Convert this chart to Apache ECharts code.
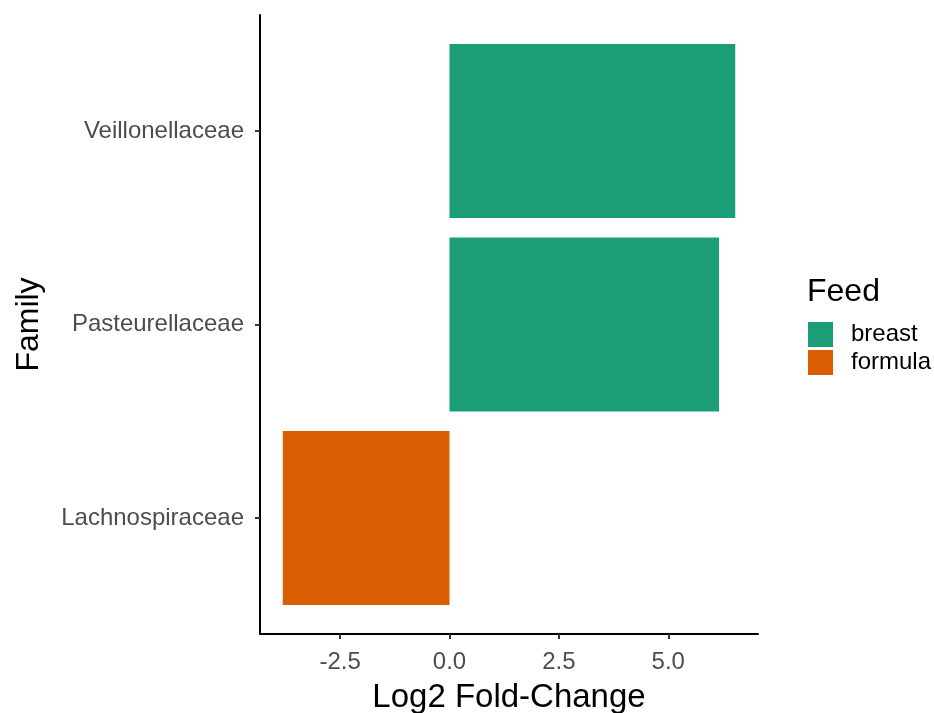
<!DOCTYPE html>
<html>
<head>
<meta charset="utf-8">
<script src="https://cdn.jsdelivr.net/npm/echarts@6/dist/echarts.min.js"></script>
<style>html,body{margin:0;padding:0;background:#fff}#c{width:934px;height:713px}</style>
</head>
<body>
<div id="c"></div>
<script>
var families = ['Lachnospiraceae', 'Pasteurellaceae', 'Veillonellaceae'];
var breastValues = [null, 6.16, 6.53];
var formulaValues = [-3.81, null, null];
var xTicks = [-2.5, 0, 2.5, 5.0];
var xMin = -4.33, xMax = 7.05;

var FONT = 'Liberation Sans, Arial, sans-serif';
var chart = echarts.init(document.getElementById('c'));
var gl = 260, gw = 498, fullTop = 15, fullH = 619;
var band = fullH / 3.2;
chart.setOption({
  animation: false,
  title: {
    text: 'Feed', left: 807, top: 276, padding: 0,
    textStyle: {fontFamily: FONT, fontSize: 32, fontWeight: 'normal', color: '#000'}
  },
  legend: {
    orient: 'vertical', left: 808, top: 322, padding: 0, itemWidth: 25, itemHeight: 25, itemGap: 3,
    icon: 'rect', data: ['breast', 'formula'],
    textStyle: {fontFamily: FONT, fontSize: 24, color: '#000', padding: [0, 0, 0, 13]}
  },
  grid: [
    {left: gl, width: gw, top: fullTop + 0.1 * band, height: 3 * band, containLabel: false, outerBoundsMode: 'none'},
    {left: gl, width: gw, top: fullTop, height: fullH, containLabel: false, outerBoundsMode: 'none'}
  ],
  xAxis: [
    {gridIndex: 0, type: 'value', min: xMin, max: xMax, show: false},
    {gridIndex: 1, type: 'value', min: xMin, max: xMax,
     name: 'Log2 Fold-Change', nameLocation: 'middle', nameGap: 47,
     nameTextStyle: {fontFamily: FONT, fontSize: 33, color: '#000'},
     axisLine: {show: true, onZero: false, lineStyle: {color: '#000', width: 2}},
     axisTick: {show: true, length: 5, customValues: xTicks, lineStyle: {color: '#333', width: 2}},
     axisLabel: {customValues: xTicks, margin: 16, fontFamily: FONT, fontSize: 24, color: '#4D4D4D',
       formatter: function (v) { return v.toFixed(1); }},
     splitLine: {show: false}}
  ],
  yAxis: [
    {gridIndex: 0, type: 'category', data: families,
     axisLine: {show: false, onZero: false},
     axisTick: {show: true, alignWithLabel: true, length: 5, lineStyle: {color: '#333', width: 2}},
     axisLabel: {margin: 16, fontFamily: FONT, fontSize: 24, color: '#4D4D4D'},
     splitLine: {show: false}},
    {gridIndex: 1, type: 'value', min: 0, max: 1,
     name: 'Family', nameLocation: 'middle', nameGap: 215,
     nameTextStyle: {fontFamily: FONT, fontSize: 32, color: '#000'},
     axisLine: {show: true, onZero: false, lineStyle: {color: '#000', width: 2}},
     axisTick: {show: false}, axisLabel: {show: false}, splitLine: {show: false}}
  ],
  series: [
    {name: 'breast', type: 'bar', xAxisIndex: 0, yAxisIndex: 0, stack: 'a', barWidth: '90%',
     data: breastValues, itemStyle: {color: '#1B9E77'}},
    {name: 'formula', type: 'bar', xAxisIndex: 0, yAxisIndex: 0, stack: 'a', barWidth: '90%',
     data: formulaValues, itemStyle: {color: '#D95F02'}}
  ]
});
</script>
</body>
</html>
